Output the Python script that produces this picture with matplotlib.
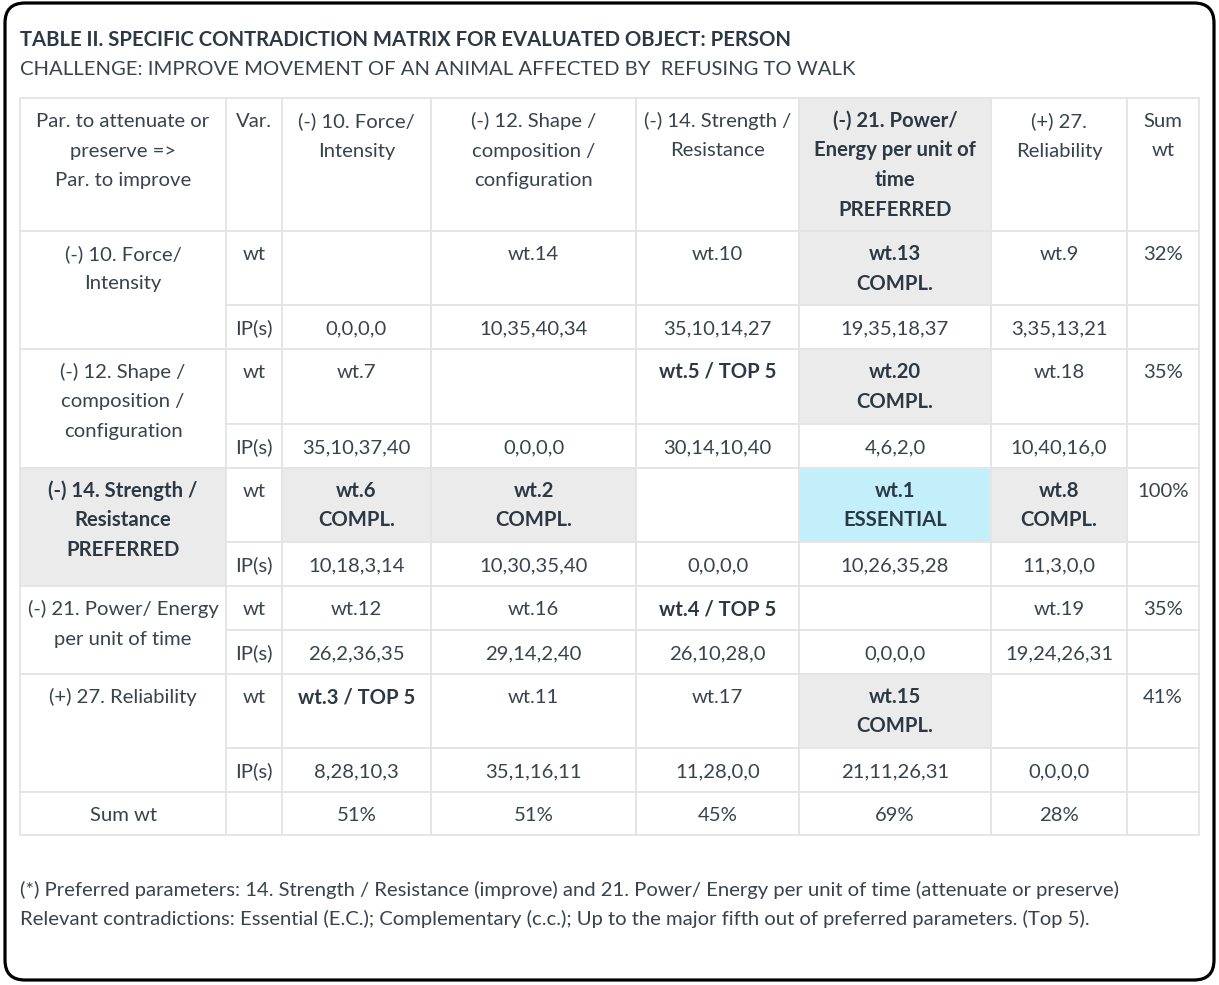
import matplotlib
matplotlib.use("Agg")
from matplotlib import pyplot as plt
from matplotlib.patches import Rectangle, FancyBboxPatch

# table content
col_headers = ["Par. to attenuate or\npreserve =>\nPar. to improve", "Var.",
               "(-) 10. Force/\nIntensity",
               "(-) 12. Shape /\ncomposition /\nconfiguration",
               "(-) 14. Strength /\nResistance",
               "(-) 21. Power/\nEnergy per unit of\ntime\nPREFERRED",
               "(+) 27.\nReliability", "Sum\nwt"]
row_labels = ["(-) 10. Force/\nIntensity",
              "(-) 12. Shape /\ncomposition /\nconfiguration",
              "(-) 14. Strength /\nResistance\nPREFERRED",
              "(-) 21. Power/ Energy\nper unit of time",
              "(+) 27. Reliability"]
wt_cells = [["", "wt.14", "wt.10", "wt.13\nCOMPL.", "wt.9"],
            ["wt.7", "", "wt.5 / TOP 5", "wt.20\nCOMPL.", "wt.18"],
            ["wt.6\nCOMPL.", "wt.2\nCOMPL.", "", "wt.1\nESSENTIAL", "wt.8\nCOMPL."],
            ["wt.12", "wt.16", "wt.4 / TOP 5", "", "wt.19"],
            ["wt.3 / TOP 5", "wt.11", "wt.17", "wt.15\nCOMPL.", ""]]
ip_cells = [["0,0,0,0", "10,35,40,34", "35,10,14,27", "19,35,18,37", "3,35,13,21"],
            ["35,10,37,40", "0,0,0,0", "30,14,10,40", "4,6,2,0", "10,40,16,0"],
            ["10,18,3,14", "10,30,35,40", "0,0,0,0", "10,26,35,28", "11,3,0,0"],
            ["26,2,36,35", "29,14,2,40", "26,10,28,0", "0,0,0,0", "19,24,26,31"],
            ["8,28,10,3", "35,1,16,11", "11,28,0,0", "21,11,26,31", "0,0,0,0"]]
row_sums = ["32%", "35%", "100%", "35%", "41%"]
col_sums = ["51%", "51%", "45%", "69%", "28%"]

title = "TABLE II. SPECIFIC CONTRADICTION MATRIX FOR EVALUATED OBJECT: PERSON"
subtitle = "CHALLENGE: IMPROVE MOVEMENT OF AN ANIMAL AFFECTED BY  REFUSING TO WALK"
notes = ["(*) Preferred parameters: 14. Strength / Resistance (improve) and 21. Power/ Energy per unit of time (attenuate or preserve)",
         "Relevant contradictions: Essential (E.C.); Complementary (c.c.); Up to the major fifth out of preferred parameters. (Top 5)."]

# styling: cell shading (0 none, 1 grey, 2 blue) and bold flags
wt_shade = [[0, 0, 0, 1, 0],
            [0, 0, 0, 1, 0],
            [1, 1, 0, 2, 1],
            [0, 0, 0, 0, 0],
            [0, 0, 0, 1, 0]]
wt_bold = [[0, 0, 0, 1, 0],
           [0, 0, 1, 1, 0],
           [1, 1, 0, 1, 1],
           [0, 0, 1, 0, 0],
           [1, 0, 0, 1, 0]]
header_bold = [0, 0, 0, 0, 0, 1, 0, 0]
label_bold = [0, 0, 1, 0, 0]

# layout (pixels)
W, H = 1219, 985
x_edges = [20, 226, 282, 431, 636, 799, 991, 1127, 1199]
header_top, header_bot = 98, 231
wt_h = [74, 75, 74, 44, 74]
ip_h = 44
sum_h = 43
line_gap = 29.5
base_off = 29

grey = "#ebebeb"
blue = "#c3effb"
grid = "#e4e4e4"
txt = "#38434e"
txt_b = "#2c3844"
shade_col = {1: grey, 2: blue}

plt.rcParams['font.family'] = ['Lato', 'DejaVu Sans']
fs = 14.6

fig = plt.figure(figsize=(W / 100, H / 100), dpi=100)
ax = fig.add_axes([0, 0, 1, 1])
ax.set_xlim(0, W)
ax.set_ylim(H, 0)
ax.axis('off')


def cell_text(x0, x1, top, s, bold=False):
    for i, line in enumerate(s.split("\n")):
        ax.text((x0 + x1) / 2, top + base_off + i * line_gap, line,
                ha='center', va='baseline', fontsize=fs,
                fontweight='bold' if bold else 'normal',
                color=txt_b if bold else txt)


def cell(x0, x1, y0, y1, shade=0):
    ax.add_patch(Rectangle((x0, y0), x1 - x0, y1 - y0,
                           facecolor=shade_col.get(shade, 'white'),
                           edgecolor=grid, linewidth=1.3, zorder=1))


# header row
for j, h in enumerate(col_headers):
    cell(x_edges[j], x_edges[j + 1], header_top, header_bot, 1 if header_bold[j] else 0)
    cell_text(x_edges[j], x_edges[j + 1], header_top, h, header_bold[j])

y = header_bot
for i, lab in enumerate(row_labels):
    y_wt = y
    y_ip = y + wt_h[i]
    y_end = y_ip + ip_h
    cell(x_edges[0], x_edges[1], y_wt, y_end, 1 if label_bold[i] else 0)
    cell_text(x_edges[0], x_edges[1], y_wt, lab, label_bold[i])
    cell(x_edges[1], x_edges[2], y_wt, y_ip)
    cell_text(x_edges[1], x_edges[2], y_wt, "wt")
    cell(x_edges[1], x_edges[2], y_ip, y_end)
    cell_text(x_edges[1], x_edges[2], y_ip, "IP(s)")
    for j in range(5):
        xa, xb = x_edges[j + 2], x_edges[j + 3]
        cell(xa, xb, y_wt, y_ip, wt_shade[i][j])
        cell_text(xa, xb, y_wt, wt_cells[i][j], wt_bold[i][j])
        cell(xa, xb, y_ip, y_end)
        cell_text(xa, xb, y_ip, ip_cells[i][j])
    cell(x_edges[7], x_edges[8], y_wt, y_ip)
    cell_text(x_edges[7], x_edges[8], y_wt, row_sums[i])
    cell(x_edges[7], x_edges[8], y_ip, y_end)
    y = y_end

# sum row
cell(x_edges[0], x_edges[1], y, y + sum_h)
cell_text(x_edges[0], x_edges[1], y, "Sum wt")
cell(x_edges[1], x_edges[2], y, y + sum_h)
for j, s in enumerate(col_sums):
    cell(x_edges[j + 2], x_edges[j + 3], y, y + sum_h)
    cell_text(x_edges[j + 2], x_edges[j + 3], y, s)
cell(x_edges[7], x_edges[8], y, y + sum_h)

# title and notes
ax.text(20, 46, title, ha='left', va='baseline', fontsize=fs,
        fontweight='bold', color=txt_b)
ax.text(20, 75, subtitle, ha='left', va='baseline', fontsize=fs, color=txt)
for k, n in enumerate(notes):
    ax.text(20, 896 + k * 29, n, ha='left', va='baseline', fontsize=fs, color=txt)

# rounded frame
ax.add_patch(FancyBboxPatch((5, 3), 1209, 977,
                            boxstyle="round,pad=0,rounding_size=20",
                            facecolor='none', edgecolor='black',
                            linewidth=2.3, zorder=5))

fig.savefig("out.png", dpi=100)
